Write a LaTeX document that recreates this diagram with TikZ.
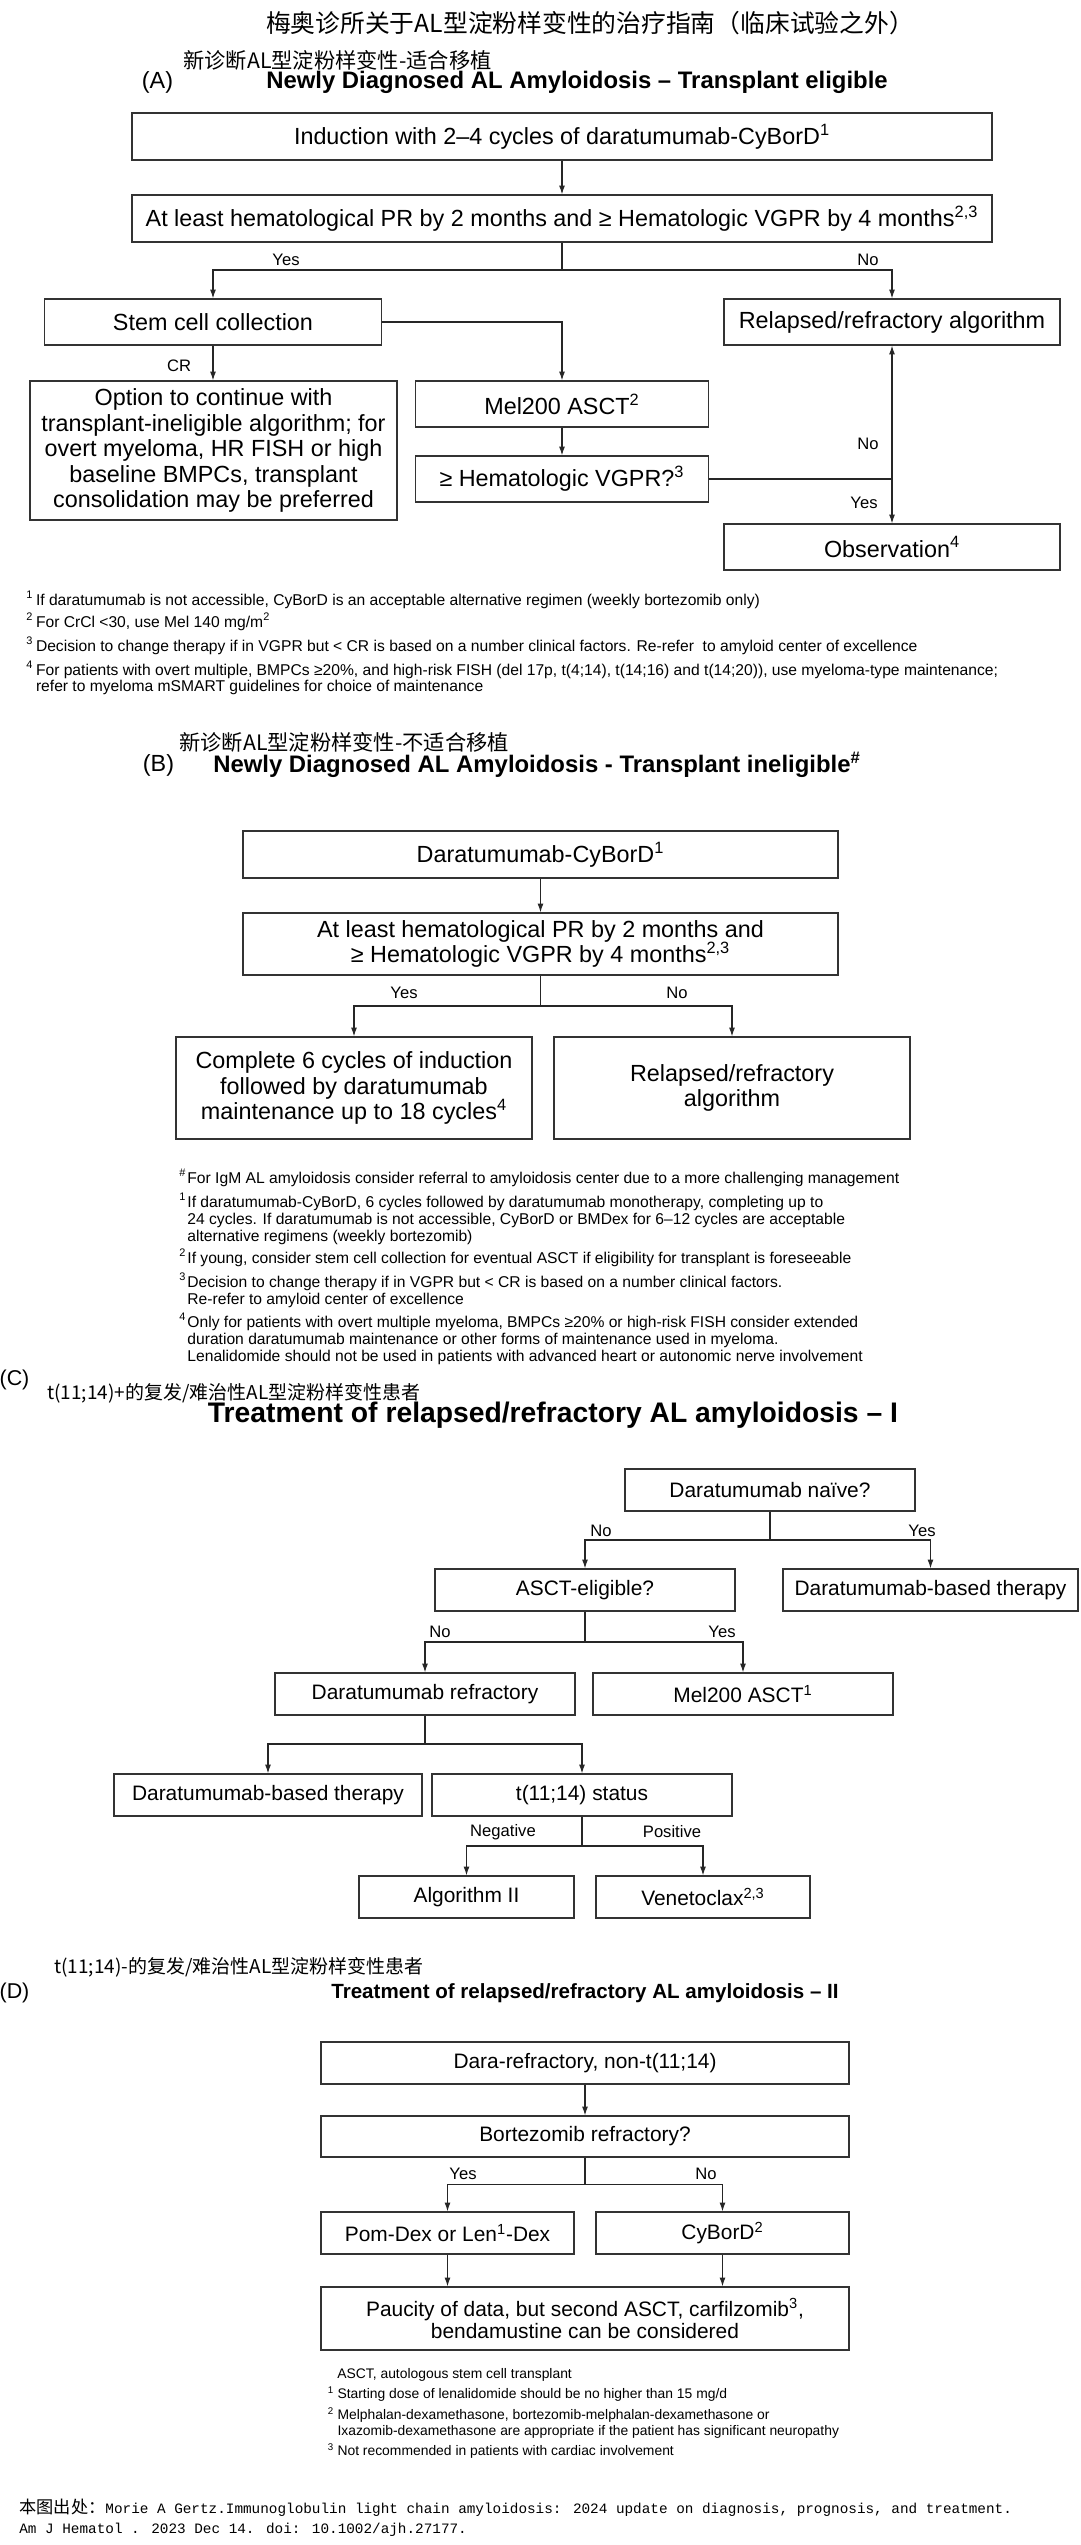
\documentclass[tikz,border=0pt]{standalone}
\usepackage{fontspec}
\setmainfont{Liberation Sans}
\newfontfamily\cjk{Noto Sans CJK SC}
\newfontfamily\hw{Liberation Mono}[Scale=0.833]
\usetikzlibrary{arrows.meta}
% sizes: one pixel of the chart is 0.567pt
\newcommand{\fcnmain}{\fontsize{14.1pt}{16pt}\selectfont\cjk}
\newcommand{\fcnsub}{\fontsize{12.1pt}{14pt}\selectfont\cjk}
\newcommand{\fcnsmall}{\fontsize{10.8pt}{12pt}\selectfont\cjk}
\newcommand{\fsrc}{\fontsize{9.8pt}{11pt}\selectfont\cjk}
\newcommand{\ftitle}{\fontsize{13.6pt}{15pt}\selectfont\bfseries}
\newcommand{\ftitleC}{\fontsize{16.1pt}{18pt}\selectfont\bfseries}
\newcommand{\ftitleD}{\fontsize{11.7pt}{13pt}\selectfont\bfseries}
\newcommand{\fpanel}{\fontsize{13.3pt}{15pt}\selectfont}
\newcommand{\fpanelC}{\fontsize{12.2pt}{14pt}\selectfont}
\newcommand{\fboxA}{\fontsize{13.3pt}{14.5pt}\selectfont}
\newcommand{\fboxC}{\fontsize{11.9pt}{12.65pt}\selectfont}
\newcommand{\fyn}{\fontsize{9.45pt}{11pt}\selectfont}
\newcommand{\ffnA}{\fontsize{8.9pt}{9.1pt}\selectfont}
\newcommand{\ffnB}{\fontsize{8.9pt}{9.65pt}\selectfont}
\newcommand{\ffnD}{\fontsize{7.9pt}{9.1pt}\selectfont}
\newcommand{\fm}[1]{\makebox[5.5pt][l]{\textsuperscript{#1}}}
\newcommand{\fmB}[1]{\makebox[4.6pt][l]{\textsuperscript{#1}}}

\begin{document}
\begin{tikzpicture}[x=0.02cm,y=-0.02cm,
  flowbox/.style={draw=black!80,line width=0.75pt,inner sep=0pt,align=center},
  bigbox/.style={flowbox,font=\fboxA},
  smallbox/.style={flowbox,font=\fboxC,minimum height=0.84cm},
  link/.style={draw=black!85,line width=0.6pt},
  arr/.style={link,-{Latex[length=5pt,width=3.4pt]}},
  yn/.style={font=\fyn,inner sep=0pt},
  plain/.style={inner sep=0pt},
  fnA/.style={anchor=base west,inner sep=0pt,align=left,font=\ffnA},
  fnB/.style={anchor=base west,inner sep=0pt,align=left,font=\ffnB},
  fnD/.style={anchor=base west,inner sep=0pt,align=left,font=\ffnD}]
\useasboundingbox (0,0) rectangle (1080,2545);

% (A) transplant eligible
\node[plain,font=\fcnmain] (headmain) at (590,23) {梅奥诊所关于AL型淀粉样变性的治疗指南（临床试验之外）};
\node[plain,font=\fcnsub,anchor=west] (cnA) at (183,60) {新诊断AL型淀粉样变性-适合移植};
\node[plain,font=\fpanel] (panelA) at (157.5,82) {(A)};
\node[plain,font=\ftitle] (titleA) at (577,82) {Newly Diagnosed AL Amyloidosis – Transplant eligible};

\node[bigbox,minimum width=17.2cm,minimum height=0.94cm] (induct) at (562,136.5) {Induction with 2–4 cycles of daratumumab-CyBorD\textsuperscript{1}};
\node[bigbox,minimum width=17.2cm,minimum height=0.94cm] (respA) at (562,218.5) {At least hematological PR by 2 months and ≥ Hematologic VGPR by 4 months\textsuperscript{2,3}};
\node[bigbox,minimum width=6.74cm,minimum height=0.92cm] (stem) at (213,322) {Stem cell collection};
\node[bigbox,minimum width=6.72cm,minimum height=0.92cm] (relA) at (892,322) {Relapsed/refractory algorithm};
\node[bigbox,minimum width=7.34cm,minimum height=2.78cm] (option) at (213.5,450.5) {Option to continue with\\transplant-ineligible algorithm; for\\overt myeloma, HR FISH or high\\baseline BMPCs, transplant\\consolidation may be preferred};
\node[bigbox,minimum width=5.86cm,minimum height=0.92cm] (melA) at (562,404) {Mel200 ASCT\textsuperscript{2}};
\node[bigbox,minimum width=5.86cm,minimum height=0.92cm] (vgpr) at (562,479) {≥ Hematologic VGPR?\textsuperscript{3}};
\node[bigbox,minimum width=6.72cm,minimum height=0.92cm] (obs) at (892,547) {Observation\textsuperscript{4}};

\draw[arr] (induct) -- (respA);
\coordinate (splitA) at (562,270);
\draw[link] (respA) -- (splitA);
\draw[arr] (splitA) -| (stem);
\draw[arr] (splitA) -| (relA);
\node[yn] (yesA) at (286,260) {Yes};
\node[yn] (noA) at (868,260) {No};
\draw[arr] (stem.south) -- (stem.south |- option.north);
\node[yn] (crA) at (179,366) {CR};
\draw[arr] (stem.east) -| (melA);
\draw[arr] (melA) -- (vgpr);
\coordinate (joinA) at (892,479);
\draw[link] (vgpr.east) -- (joinA);
\draw[arr] (joinA) -- (relA);
\draw[arr] (joinA) -- (obs);
\node[yn] (noA2) at (868,444) {No};
\node[yn] (yesA2) at (864,503) {Yes};

% multi-line notes sit on the baseline of their last line
\node[fnA] (fnA1) at (26,605) {\fm{1}If daratumumab is not accessible, CyBorD is an acceptable alternative regimen (weekly bortezomib only)};
\node[fnA] (fnA2) at (26,627) {\fm{2}For CrCl <30, use Mel 140 mg/m\textsuperscript{2}};
\node[fnA] (fnA3) at (26,651) {\fm{3}Decision to change therapy if in VGPR but < CR is based on a number clinical factors. Re-refer\ \ to amyloid center of excellence};
\node[fnA] (fnA4) at (26,691) {\fm{4}For patients with overt multiple, BMPCs ≥20\%, and high-risk FISH (del 17p, t(4;14), t(14;16) and t(14;20)), use myeloma-type maintenance;\\\hspace*{5.5pt}refer to myeloma mSMART guidelines for choice of maintenance};

% (B) transplant ineligible
\node[plain,font=\fcnsub,anchor=west] (cnB) at (179,742) {新诊断AL型淀粉样变性-不适合移植};
\node[plain,font=\fpanel] (panelB) at (158.5,765) {(B)};
\node[plain,font=\ftitle] (titleB) at (537,765) {Newly Diagnosed AL Amyloidosis - Transplant ineligible\textsuperscript{\#}};

\node[bigbox,minimum width=11.9cm,minimum height=0.94cm] (dcybord) at (540.5,854.5) {Daratumumab-CyBorD\textsuperscript{1}};
\node[bigbox,minimum width=11.9cm,minimum height=1.24cm] (respB) at (540.5,944) {At least hematological PR by 2 months and\\≥ Hematologic VGPR by 4 months\textsuperscript{2,3}};
\node[bigbox,minimum width=7.12cm,minimum height=2.04cm] (complete) at (354,1088) {Complete 6 cycles of induction\\followed by daratumumab\\maintenance up to 18 cycles\textsuperscript{4}};
\node[bigbox,minimum width=7.12cm,minimum height=2.04cm] (relB) at (732,1088) {Relapsed/refractory\\algorithm};

\draw[arr] (dcybord) -- (respB);
\coordinate (splitB) at (540.5,1006);
\draw[link] (respB) -- (splitB);
\draw[arr] (splitB) -| (complete);
\draw[arr] (splitB) -| (relB);
\node[yn] (yesB) at (404,993) {Yes};
\node[yn] (noB) at (677,993) {No};

\node[fnB] (fnB0) at (179,1183) {\fmB{\#}For IgM AL amyloidosis consider referral to amyloidosis center due to a more challenging management};
\node[fnB] (fnB1) at (179,1241) {\fmB{1}If daratumumab-CyBorD, 6 cycles followed by daratumumab monotherapy, completing up to\\\hspace*{4.6pt}24 cycles. If daratumumab is not accessible, CyBorD or BMDex for 6–12 cycles are acceptable\\\hspace*{4.6pt}alternative regimens (weekly bortezomib)};
\node[fnB] (fnB2) at (179,1263) {\fmB{2}If young, consider stem cell collection for eventual ASCT if eligibility for transplant is foreseeable};
\node[fnB] (fnB3) at (179,1304) {\fmB{3}Decision to change therapy if in VGPR but < CR is based on a number clinical factors.\\\hspace*{4.6pt}Re-refer to amyloid center of excellence};
\node[fnB] (fnB4) at (179,1361) {\fmB{4}Only for patients with overt multiple myeloma, BMPCs ≥20\% or high-risk FISH consider extended\\\hspace*{4.6pt}duration daratumumab maintenance or other forms of maintenance used in myeloma.\\\hspace*{4.6pt}Lenalidomide should not be used in patients with advanced heart or autonomic nerve involvement};

% (C) relapsed/refractory I
\node[plain,font=\fpanelC] (panelC) at (14.5,1380) {(C)};
\node[plain,font=\fcnsmall,anchor=west] (cnC) at (47,1393) {t(11;14)+的复发/难治性AL型淀粉样变性患者};
\node[plain,font=\ftitleC] (titleC) at (553,1415) {Treatment of relapsed/refractory AL amyloidosis – I};

\node[smallbox,minimum width=5.8cm] (naive) at (770,1490) {Daratumumab naïve?};
\node[smallbox,minimum width=6.0cm] (asct) at (585,1590) {ASCT-eligible?};
\node[smallbox,minimum width=5.9cm] (dbasedA) at (930.5,1590) {Daratumumab-based therapy};
\node[smallbox,minimum width=6.0cm] (darref) at (425,1694) {Daratumumab refractory};
\node[smallbox,minimum width=6.0cm] (melC) at (743,1694) {Mel200 ASCT\textsuperscript{1}};
\node[smallbox,minimum width=6.16cm] (dbasedB) at (268,1795) {Daratumumab-based therapy};
\node[smallbox,minimum width=6.0cm] (tstatus) at (582,1795) {t(11;14) status};
\node[smallbox,minimum width=4.3cm] (algII) at (466.5,1897) {Algorithm II};
\node[smallbox,minimum width=4.28cm] (veneto) at (703,1897) {Venetoclax\textsuperscript{2,3}};

\coordinate (splitC1) at (770,1540);
\draw[link] (naive) -- (splitC1);
\draw[arr] (splitC1) -| (asct);
\draw[arr] (splitC1) -| (dbasedA);
\node[yn] (noC1) at (601,1531) {No};
\node[yn] (yesC1) at (922,1531) {Yes};
\coordinate (splitC2) at (585,1642);
\draw[link] (asct) -- (splitC2);
\draw[arr] (splitC2) -| (darref);
\draw[arr] (splitC2) -| (melC);
\node[yn] (noC2) at (440,1632) {No};
\node[yn] (yesC2) at (722,1632) {Yes};
\coordinate (splitC3) at (425,1744);
\draw[link] (darref) -- (splitC3);
\draw[arr] (splitC3) -| (dbasedB);
\draw[arr] (splitC3) -| (tstatus);
\coordinate (splitC4) at (582,1846);
\draw[link] (tstatus) -- (splitC4);
\draw[arr] (splitC4) -| (algII);
\draw[arr] (splitC4) -| (veneto);
\node[yn] (negC) at (503,1832) {Negative};
\node[yn] (posC) at (672,1832) {Positive};

% (D) relapsed/refractory II
\node[plain,font=\fcnsmall,anchor=west] (cnD) at (54,1967) {t(11;14)-的复发/难治性AL型淀粉样变性患者};
\node[plain,font=\fpanelC] (panelD) at (14.5,1993) {(D)};
\node[plain,font=\ftitleD] (titleD) at (585,1993) {Treatment of relapsed/refractory AL amyloidosis – II};

\node[smallbox,minimum width=10.56cm] (dararef) at (585,2063) {Dara-refractory, non-t(11;14)};
\node[smallbox,minimum width=10.56cm,minimum height=0.82cm] (bortref) at (585,2136.5) {Bortezomib refractory?};
\node[smallbox,minimum width=5.06cm] (pomdex) at (447.5,2233) {Pom-Dex or Len\textsuperscript{1}-Dex};
\node[smallbox,minimum width=5.06cm] (cybord) at (722.5,2233) {CyBorD\textsuperscript{2}};
\node[smallbox,minimum width=10.56cm,minimum height=1.26cm] (paucity) at (585,2318.5) {Paucity of data, but second ASCT, carfilzomib\textsuperscript{3},\\bendamustine can be considered};

\draw[arr] (dararef) -- (bortref);
\coordinate (splitD) at (585,2184);
\draw[link] (bortref) -- (splitD);
\draw[arr] (splitD) -| (pomdex);
\draw[arr] (splitD) -| (cybord);
\node[yn] (yesD) at (463,2174) {Yes};
\node[yn] (noD) at (706,2174) {No};
\draw[arr] (pomdex.south) -- (pomdex.south |- paucity.north);
\draw[arr] (cybord.south) -- (cybord.south |- paucity.north);

\node[fnD] (fnD0) at (337,2378) {ASCT, autologous stem cell transplant};
\node[fnD] (fnD1) at (327.5,2398) {\fm{1}Starting dose of lenalidomide should be no higher than 15 mg/d};
\node[fnD] (fnD2) at (327.5,2435) {\fm{2}Melphalan-dexamethasone, bortezomib-melphalan-dexamethasone or\\\hspace*{5.5pt}Ixazomib-dexamethasone are appropriate if the patient has significant neuropathy};
\node[fnD] (fnD3) at (327.5,2455) {\fm{3}Not recommended in patients with cardiac involvement};

% source
\node[plain,font=\fsrc,anchor=west] (src1) at (19,2508) {本图出处：{\hw Morie A Gertz.Immunoglobulin light chain amyloidosis: 2024 update on diagnosis, prognosis, and treatment.}};
\node[plain,font=\fsrc,anchor=west] (src2) at (19,2530) {{\hw Am J Hematol . 2023 Dec 14. doi: 10.1002/ajh.27177.}};
\end{tikzpicture}
\end{document}
